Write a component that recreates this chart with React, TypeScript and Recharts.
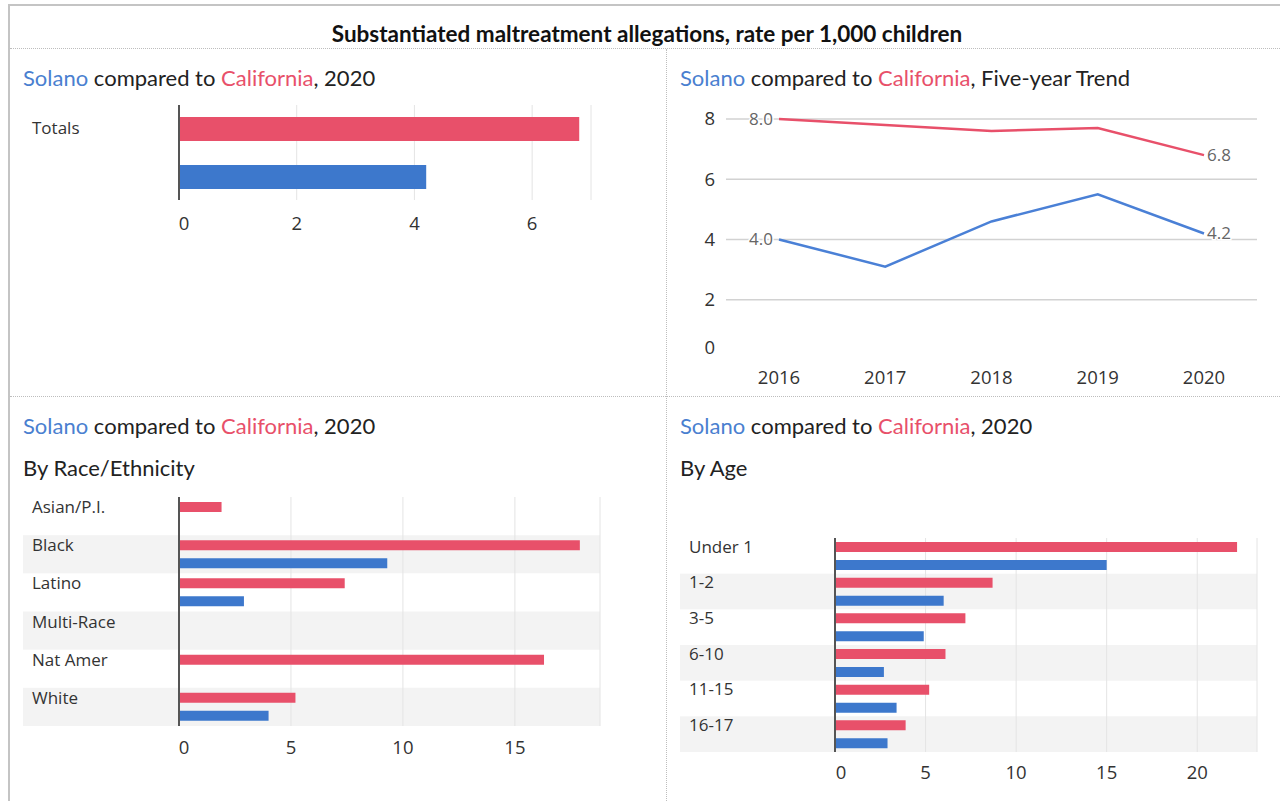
import React from "react";
import {
  BarChart,
  Bar,
  XAxis,
  YAxis,
  CartesianGrid,
  LineChart,
  Line,
  ReferenceArea,
  ReferenceLine,
  LabelList,
} from "recharts";

// ---------- data ----------
const totalsCategories = ["Totals"];
const totalsCalifornia = [6.8];
const totalsSolano = [4.2];
const totalsTicks = [0, 2, 4, 6];

const trendYears = ["2016", "2017", "2018", "2019", "2020"];
const trendCalifornia = [8.0, 7.8, 7.6, 7.7, 6.8];
const trendSolano = [4.0, 3.1, 4.6, 5.5, 4.2];
const trendTicks = [0, 2, 4, 6, 8];
const trendGridValues = [2, 4, 6, 8];

const raceCategories = ["Asian/P.I.", "Black", "Latino", "Multi-Race", "Nat Amer", "White"];
const raceCalifornia: (number | null)[] = [1.9, 17.9, 7.4, null, 16.3, 5.2];
const raceSolano: (number | null)[] = [null, 9.3, 2.9, null, null, 4.0];
const raceTicks = [0, 5, 10, 15];

const ageCategories = ["Under 1", "1-2", "3-5", "6-10", "11-15", "16-17"];
const ageCalifornia = [22.2, 8.7, 7.2, 6.1, 5.2, 3.9];
const ageSolano = [15.0, 6.0, 4.9, 2.7, 3.4, 2.9];
const ageTicks = [0, 5, 10, 15, 20];

// ---------- style ----------
const RED = "#e8506a";
const BLUE = "#3d78cc";
const LINE_BLUE = "#4a80d6";
const TXT_BLUE = "#4a7fd0";
const TXT_RED = "#e8506a";
const BAND = "#f3f3f3";
const AXIS_FONT = "'Open Sans', 'Noto Sans', sans-serif";
const TITLE_FONT = "Lato, 'Open Sans', sans-serif";

const buildRows = (cats: string[], ca: (number | null)[], so: (number | null)[]) =>
  cats.map((name, i) => ({ name, california: ca[i], solano: so[i] }));

const totalsData = buildRows(totalsCategories, totalsCalifornia, totalsSolano);
const raceData = buildRows(raceCategories, raceCalifornia, raceSolano);
const ageData = buildRows(ageCategories, ageCalifornia, ageSolano);
const trendData = trendYears.map((year, i) => ({
  year,
  california: trendCalifornia[i],
  solano: trendSolano[i],
}));

const textStyle: React.CSSProperties = {
  position: "absolute",
  fontFamily: TITLE_FONT,
  fontSize: 22,
  lineHeight: "24px",
  color: "#222",
  whiteSpace: "nowrap",
};

const Subtitle = ({ x, y, suffix }: { x: number; y: number; suffix: string }) => (
  <div style={{ ...textStyle, left: x, top: y }}>
    <span style={{ color: TXT_BLUE }}>Solano</span> compared to{" "}
    <span style={{ color: TXT_RED }}>California</span>
    {suffix}
  </div>
);

const Plain = ({ x, y, text }: { x: number; y: number; text: string }) => (
  <div style={{ ...textStyle, left: x, top: y }}>{text}</div>
);

type HBarProps = {
  data: any[];
  left: number;
  top: number;
  width: number;
  height: number;
  margin: { top: number; right: number; bottom: number; left: number };
  yAxisWidth: number;
  domain: [number, number];
  ticks: number[];
  barSize: number;
  barGap: number;
  labelMargin: number;
  labelOffset: number;
  zeroShift: number;
  tickMargin: number;
  bandRows: string[];
  bandLeft: number;
  bandH: number;
};

const HBar = (p: HBarProps) => {
  const bandSet = new Set(p.bandRows);
  const catTick = (t: any) => {
    const name = t.payload.value;
    const axisX = t.x + p.labelMargin;
    const bx = t.x + p.bandLeft;
    return (
      <g>
        {bandSet.has(name) && (
          <rect x={bx} y={t.y - p.bandH / 2} width={axisX - bx - 1} height={p.bandH} fill={BAND} />
        )}
        <text
          x={t.x}
          y={t.y - p.labelOffset}
          dy="0.35em"
          textAnchor="start"
          fontFamily={AXIS_FONT}
          fontSize={17}
          fill="#333"
        >
          {name}
        </text>
      </g>
    );
  };
  const numTick = (t: any) => (
    <text
      x={t.x + (t.payload.value === 0 ? p.zeroShift : 0)}
      y={t.y}
      dy="0.71em"
      textAnchor="middle"
      fontFamily={AXIS_FONT}
      fontSize={18.5}
      fill="#333"
    >
      {t.payload.value}
    </text>
  );
  return (
    <div style={{ position: "absolute", left: p.left, top: p.top }}>
      <BarChart
        width={p.width}
        height={p.height}
        data={p.data}
        layout="vertical"
        margin={p.margin}
        barSize={p.barSize}
        barGap={p.barGap}
      >
        {p.bandRows.map((c) => (
          <ReferenceArea
            key={c}
            y1={c}
            y2={c}
            fill={BAND}
            fillOpacity={1}
            stroke="none"
            zIndex={-150}
          />
        ))}
        <CartesianGrid horizontal={false} stroke="#e4e4e4" />
        <XAxis
          type="number"
          domain={p.domain}
          ticks={p.ticks}
          axisLine={false}
          tickLine={false}
          tickSize={0}
          tickMargin={p.tickMargin}
          height={30}
          tick={numTick}
          allowDataOverflow
        />
        <YAxis
          type="category"
          dataKey="name"
          width={p.yAxisWidth}
          axisLine={{ stroke: "#555", strokeWidth: 2 }}
          tickLine={false}
          tickSize={0}
          tickMargin={p.labelMargin}
          tick={catTick}
          interval={0}
        />
        <Bar dataKey="california" fill={RED} isAnimationActive={false} />
        <Bar dataKey="solano" fill={BLUE} isAnimationActive={false} />
      </BarChart>
    </div>
  );
};

const endLabel = (props: any) => {
  const { x, y, value, index } = props;
  if (index !== 0 && index !== trendYears.length - 1) return null;
  const first = index === 0;
  return (
    <text
      x={first ? x - 6 : x + 3}
      y={y}
      dy="0.35em"
      textAnchor={first ? "end" : "start"}
      fontFamily={AXIS_FONT}
      fontSize={17}
      fill="#666"
      stroke="#fff"
      strokeWidth={3}
      paintOrder="stroke"
    >
      {Number(value).toFixed(1)}
    </text>
  );
};

const TrendChart = () => {
  const yTick = (t: any) => (
    <text
      x={t.x}
      y={t.y + (t.payload.value === 0 ? -12 : 0)}
      dy="0.35em"
      textAnchor="end"
      fontFamily={AXIS_FONT}
      fontSize={18.5}
      fill="#333"
    >
      {t.payload.value}
    </text>
  );
  const xTick = (t: any) => (
    <text
      x={t.x}
      y={t.y}
      dy="0.71em"
      textAnchor="middle"
      fontFamily={AXIS_FONT}
      fontSize={18.5}
      fill="#333"
    >
      {t.payload.value}
    </text>
  );
  return (
    <div style={{ position: "absolute", left: 660, top: 95 }}>
      <LineChart
        width={620}
        height={300}
        data={trendData}
        margin={{ top: 24, right: 23, bottom: 5, left: 10 }}
      >
        {trendGridValues.map((v) => (
          <ReferenceLine key={v} y={v} stroke="#d2d2d2" strokeWidth={1.5} />
        ))}
        <XAxis
          dataKey="year"
          axisLine={false}
          tickLine={false}
          tickSize={0}
          tickMargin={11}
          height={30}
          padding={{ left: 53, right: 53 }}
          tick={xTick}
          interval={0}
        />
        <YAxis
          type="number"
          domain={[0, 8]}
          ticks={trendTicks}
          axisLine={false}
          tickLine={false}
          tickSize={0}
          tickMargin={11}
          width={56}
          tick={yTick}
        />
        <Line dataKey="california" stroke={RED} strokeWidth={2.5} dot={false} isAnimationActive={false}>
          <LabelList dataKey="california" content={endLabel} />
        </Line>
        <Line dataKey="solano" stroke={LINE_BLUE} strokeWidth={2.5} dot={false} isAnimationActive={false}>
          <LabelList dataKey="solano" content={endLabel} />
        </Line>
      </LineChart>
    </div>
  );
};

export default function App() {
  return (
    <div
      style={{
        position: "absolute",
        left: 0,
        top: 0,
        width: 1280,
        height: 801,
        overflow: "hidden",
        background: "#fff",
      }}
    >
      {/* outer frame */}
      <div
        style={{
          position: "absolute",
          left: 8,
          top: 4,
          width: 1400,
          height: 900,
          borderTop: "2px solid #c4c4c4",
          borderLeft: "2px solid #c4c4c4",
        }}
      />
      {/* title */}
      <div
        style={{
          position: "absolute",
          left: 8,
          top: 22,
          width: 1278,
          textAlign: "center",
          fontFamily: TITLE_FONT,
          fontWeight: 700,
          fontSize: 22.5,
          lineHeight: "24px",
          color: "#111",
        }}
      >
        Substantiated maltreatment allegations, rate per 1,000 children
      </div>
      {/* separators */}
      <div style={{ position: "absolute", left: 10, top: 48, width: 1270, borderTop: "1px dotted #bdbdbd" }} />
      <div style={{ position: "absolute", left: 10, top: 396, width: 1270, borderTop: "1px dotted #bdbdbd" }} />
      <div style={{ position: "absolute", left: 666, top: 49, height: 752, borderLeft: "1px dotted #bdbdbd" }} />

      <Subtitle x={23} y={66} suffix=", 2020" />
      <Subtitle x={680} y={66} suffix=", Five-year Trend" />
      <Subtitle x={23} y={414} suffix=", 2020" />
      <Subtitle x={680} y={414} suffix=", 2020" />
      <Plain x={23} y={456} text="By Race/Ethnicity" />
      <Plain x={680} y={456} text="By Age" />

      <HBar
        data={totalsData}
        left={0}
        top={95}
        width={640}
        height={150}
        margin={{ top: 10, right: 49, bottom: 15, left: 10 }}
        yAxisWidth={169}
        domain={[0, 7]}
        ticks={totalsTicks}
        barSize={24}
        barGap={24}
        labelMargin={147}
        labelOffset={24}
        zeroShift={5}
        tickMargin={17}
        bandRows={[]}
        bandLeft={-9}
        bandH={95}
      />

      <TrendChart />

      <HBar
        data={raceData}
        left={0}
        top={487}
        width={640}
        height={280}
        margin={{ top: 10, right: 40, bottom: 11, left: 10 }}
        yAxisWidth={169}
        domain={[0, 18.8]}
        ticks={raceTicks}
        barSize={10}
        barGap={8}
        labelMargin={147}
        labelOffset={9}
        zeroShift={5}
        tickMargin={15}
        bandRows={["Black", "Multi-Race", "White"]}
        bandLeft={-9}
        bandH={229 / 6}
      />

      <HBar
        data={ageData}
        left={660}
        top={528}
        width={620}
        height={270}
        margin={{ top: 10, right: 23, bottom: 16, left: 10 }}
        yAxisWidth={165}
        domain={[0, 23.3]}
        ticks={ageTicks}
        barSize={10}
        barGap={8}
        labelMargin={146}
        labelOffset={9}
        zeroShift={6}
        tickMargin={14}
        bandRows={["1-2", "6-10", "16-17"]}
        bandLeft={-9}
        bandH={214 / 6}
      />
    </div>
  );
}
